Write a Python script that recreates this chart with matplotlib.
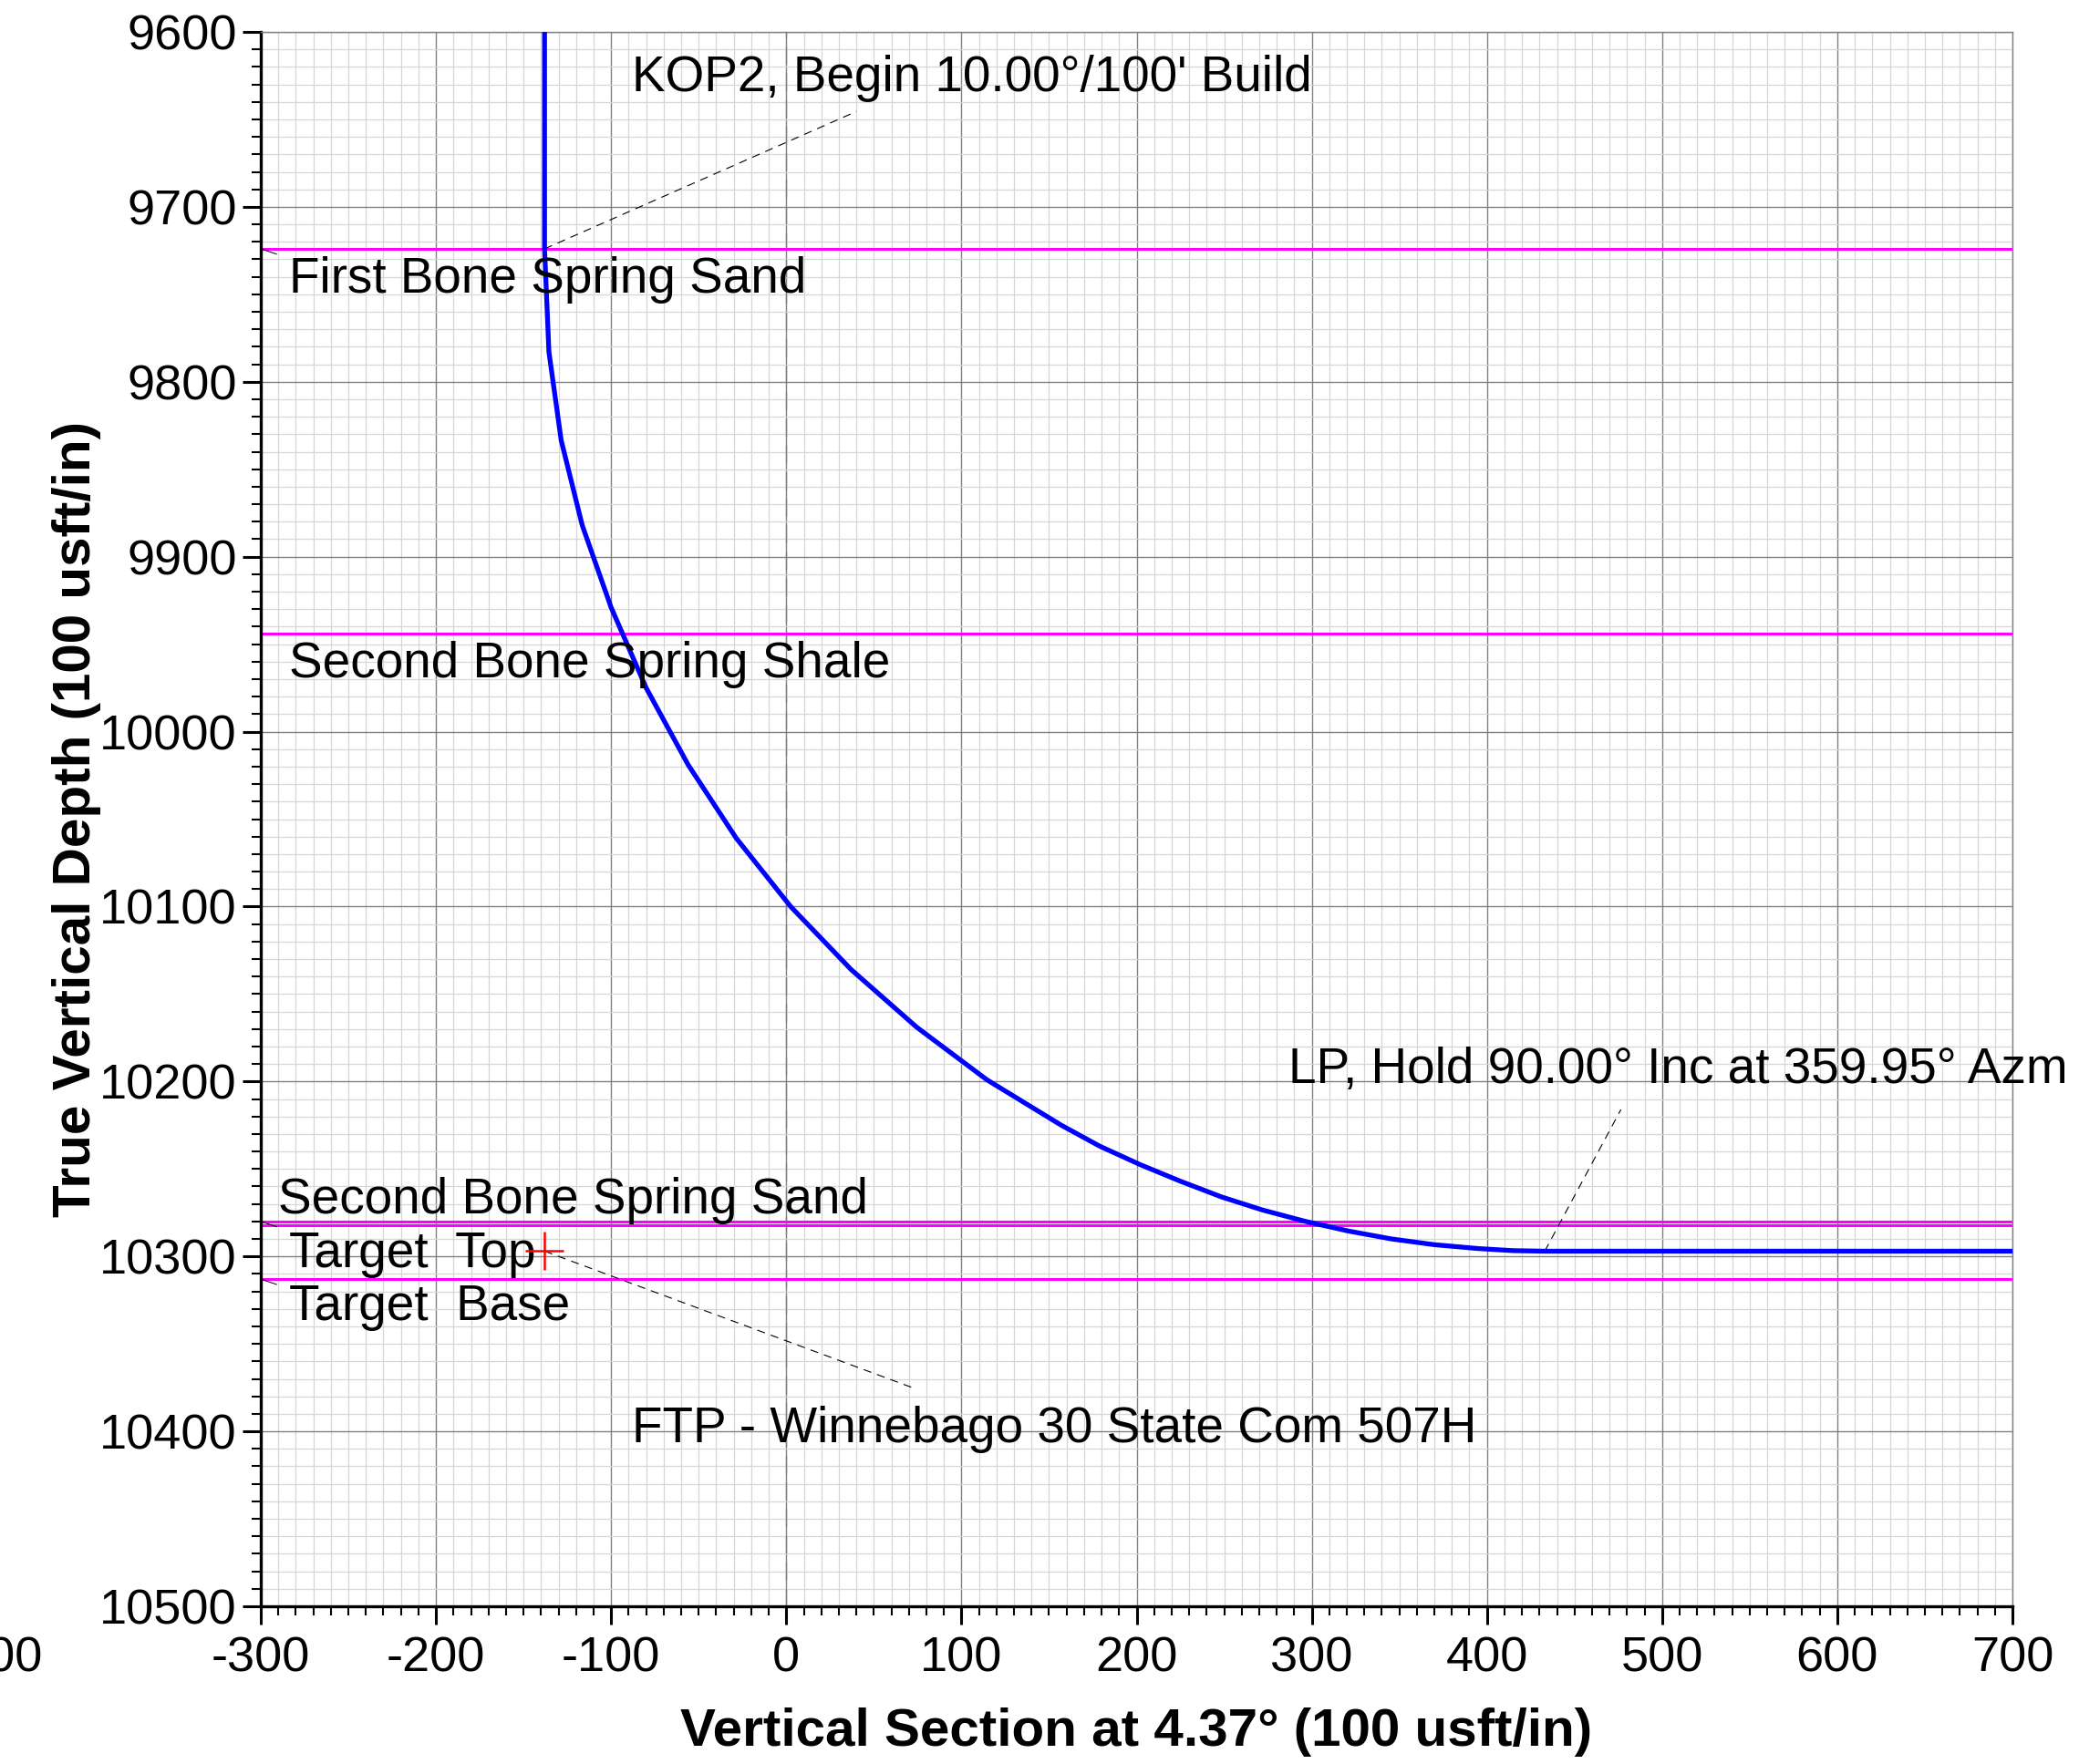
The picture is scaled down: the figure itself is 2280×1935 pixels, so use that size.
import numpy as np
import matplotlib.pyplot as plt
from matplotlib.ticker import MultipleLocator

plt.rcParams['font.family'] = ['Liberation Sans', 'DejaVu Sans']
plt.rcParams['axes.unicode_minus'] = False

# Well path (vertical section, TVD)
vs = [-138, -138, -135.5, -128.5, -116.5, -100, -80, -56, -28.5, 2.5, 37, 74.5,
      114.5, 157, 179, 202, 225, 248.5, 272, 296.5, 321, 345.5,
      370, 395, 415, 433, 700]
tvd = [9600, 9724, 9783, 9833.5, 9882, 9929, 9975, 10019, 10061, 10100, 10136,
       10169, 10199, 10225, 10237, 10247.5, 10257, 10266, 10273.5, 10280, 10285.5, 10290,
       10293.3, 10295.5, 10296.7, 10297, 10297]

# Formation tops
form_names = ['First Bone Spring Sand', 'Second Bone Spring Shale',
              'Second Bone Spring Sand', 'Target  Top', 'Target  Base']
form_tvd = [9724, 9944, 10280, 10282, 10313]
form_label_xy = [(-284, 9749), (-284, 9969), (-290, 10275.3), (-284, 10306.2), (-284, 10336.6)]

# Target (FTP) marker
ftp_vs, ftp_tvd = -138, 10297

# Annotations: text, text position, leader start, leader end
notes = [
    ("KOP2, Begin 10.00°/100' Build", (-88, 9634), (-138, 9724), (40, 9645.5)),
    ("LP, Hold 90.00° Inc at 359.95° Azm", (286.5, 10201), (433, 10297), (476.5, 10216)),
    ("FTP - Winnebago 30 State Com 507H", (-88, 10406), (-138, 10297), (72, 10375)),
]

fig = plt.figure(figsize=(22.8, 19.35), dpi=100)
ax = fig.add_axes([286 / 2280, 1 - 1762 / 1935, (2207 - 286) / 2280, (1762 - 35) / 1935])

ax.set_xlim(-300, 700)
ax.set_ylim(10500, 9600)
ax.xaxis.set_major_locator(MultipleLocator(100))
ax.xaxis.set_minor_locator(MultipleLocator(10))
ax.yaxis.set_major_locator(MultipleLocator(100))
ax.yaxis.set_minor_locator(MultipleLocator(10))

ax.set_axisbelow(True)
ax.grid(which='minor', color='#d6d6d6', lw=0.9, zorder=0)
ax.grid(which='major', color='#808080', lw=1.0, zorder=0.5)

for side in ['left', 'bottom']:
    ax.spines[side].set_linewidth(2.4)
    ax.spines[side].set_color('black')
for side in ['top', 'right']:
    ax.spines[side].set_linewidth(1.0)
    ax.spines[side].set_color('#808080')

ax.tick_params(which='major', direction='out', length=14.5, width=2.2, labelsize=39)
ax.tick_params(axis='x', which='major', pad=9)
ax.tick_params(axis='y', which='major', pad=4.5)
ax.tick_params(which='minor', direction='out', length=7.5, width=1.5)

# section line at 0
ax.axvline(0, color='#808080', lw=1.0, dashes=(14, 7), zorder=1)

# formation tops
for name, t, (lx, ly) in zip(form_names, form_tvd, form_label_xy):
    ax.axhline(t, color='#ff00ff', lw=2.2, zorder=2)
    ax.text(lx, ly, name, fontsize=39.5, va='baseline', ha='left', zorder=5)
for t in [form_tvd[0], form_tvd[2], form_tvd[4]]:
    ax.plot([-300, -291], [t, t + 3], color='black', lw=0.7, zorder=3)

# well path
ax.plot(vs, tvd, color='#0000ff', lw=3.8, solid_capstyle='round', zorder=4)

# FTP marker
ax.plot([ftp_vs], [ftp_tvd], marker='+', ms=30, mew=1.8, color='red', zorder=6)

# annotations with dashed leaders
for txt, (tx, ty), (x0, y0), (x1, y1) in notes:
    ax.plot([x0, x1], [y0, y1], color='black', lw=0.8, dashes=(8, 6), zorder=3)
    ax.text(tx, ty, txt, fontsize=39.5, va='baseline', ha='left', zorder=5, clip_on=False)

fig.text(0.5467, 1 - 1915 / 1935, 'Vertical Section at 4.37° (100 usft/in)',
         fontsize=42, fontweight='bold', ha='center', va='baseline')
fig.text(0.037, 1 - 898.5 / 1935, 'True Vertical Depth (100 usft/in)',
         fontsize=42, fontweight='bold', rotation=90, ha='center', va='center')

# clipped tick label at far left
fig.text(47 / 2280, 1 - 1833 / 1935, '-400', fontsize=39, ha='right', va='baseline')

fig.savefig('out.png', dpi=100)
